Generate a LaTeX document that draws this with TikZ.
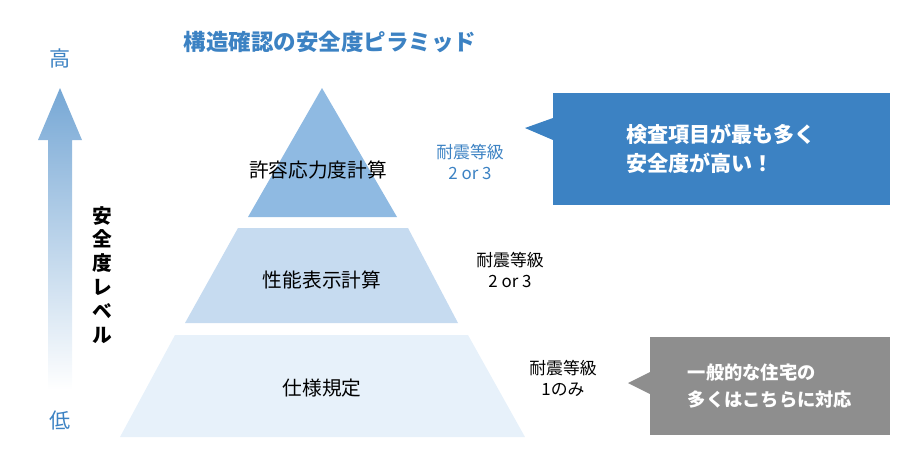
\documentclass[tikz,border=0pt]{standalone}
\usepackage{fontspec}
\setmainfont{Noto Sans CJK JP}
\usetikzlibrary{arrows.meta}
\definecolor{MyBlue}{HTML}{3C82C3}
\definecolor{TierA}{HTML}{8FBAE2}
\definecolor{TierB}{HTML}{C6DBF0}
\definecolor{TierC}{HTML}{E7F1FA}
\definecolor{MyGray}{HTML}{8E8E8E}
\begin{document}
\begin{tikzpicture}[x=0.025cm,y=-0.025cm,
    tierlabel/.style={font=\fontsize{14}{16}\selectfont},
    gradelabel/.style={font=\fontsize{12}{15}\selectfont,align=center},
    calloutbox/.style={font=\fontsize{15}{21}\selectfont\bfseries,text=white,align=left}]
                \useasboundingbox (0,0) rectangle (920,468);
                % pyramid
                \fill[TierA] (322,88) -- (397,217) -- (248,217) -- cycle;
                \fill[TierB] (238,228) -- (408,228) -- (458,323) -- (185,323) -- cycle;
                \fill[TierC] (175,335) -- (468,335) -- (525,437) -- (120,437) -- cycle;
                \node[tierlabel] (calc) at (318,170) {許容応力度計算};
                \node[tierlabel] (perf) at (322,280) {性能表示計算};
                \node[tierlabel] (spec) at (322,388) {仕様規定};
                % arrow
                \shade[top color=MyBlue!70,bottom color=white] (48,390) -- (48,140) -- (38,140) -- (60,88) -- (82,140) -- (72,140) -- (72,390) -- cycle;
                \node[text=MyBlue,font=\fontsize{15}{18}\selectfont] (high) at (60,58) {高};
                \node[text=MyBlue,font=\fontsize{15}{18}\selectfont] (low) at (60,420) {低};
                \node[font=\fontsize{14}{17}\selectfont\bfseries,align=center] (level) at (102,275) {安\\全\\度\\レ\\ベ\\ル};
                \node[text=MyBlue,font=\fontsize{16}{18}\selectfont\bfseries] (title) at (330,42) {構造確認の安全度ピラミッド};
                % grades
                \node[gradelabel,text=MyBlue] (gradeA) at (470,162) {耐震等級\\2 or 3};
                \node[gradelabel] (gradeB) at (510,270) {耐震等級\\2 or 3};
                \node[gradelabel] (gradeC) at (563,378) {耐震等級\\1のみ};
                % callouts
                \fill[MyBlue] (553,93) rectangle (890,205);
                \fill[MyBlue] (553,118) -- (525,128) -- (553,140) -- cycle;
                \node[calloutbox] (boxA) at (721,149) {検査項目が最も多く\\安全度が高い！};
                \fill[MyGray] (650,337) rectangle (890,435);
                \fill[MyGray] (650,372) -- (628,383) -- (650,394) -- cycle;
                \node[calloutbox,font=\fontsize{13}{19}\selectfont\bfseries] (boxB) at (770,386) {一般的な住宅の\\多くはこちらに対応};
            \end{tikzpicture}
\end{document}
